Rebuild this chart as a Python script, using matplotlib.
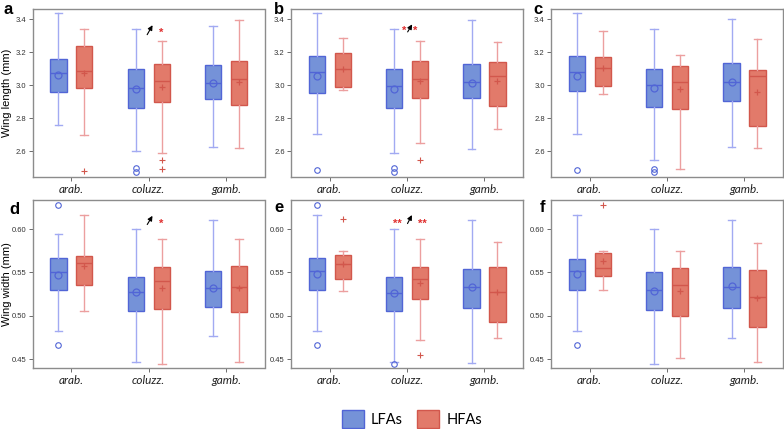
import matplotlib
matplotlib.use("Agg")
import matplotlib.pyplot as plt
from matplotlib.patches import Patch

plt.rcParams["font.family"] = ["Liberation Sans", "DejaVu Sans"]

# categories and groups
species = ["arab.", "coluzz.", "gamb."]
groups = ["LFAs", "HFAs"]

# per species: [whislo, q1, median, q3, whishi, mean]
# wing length, panel a
a_lfa = [[2.757, 2.960, 3.077, 3.160, 3.440, 3.060],
         [2.602, 2.864, 2.981, 3.096, 3.340, 2.980],
         [2.626, 2.915, 3.012, 3.123, 3.358, 3.012]]
a_hfa = [[2.700, 2.985, 3.086, 3.238, 3.341, 3.072],
         [2.588, 2.896, 3.025, 3.130, 3.270, 2.987],
         [2.616, 2.881, 3.038, 3.149, 3.398, 3.022]]
a_lfa_out = [[], [2.495, 2.472], []]
a_hfa_out = [[2.480], [2.544, 2.490], []]

# panel b
b_lfa = [[2.703, 2.956, 3.079, 3.178, 3.440, 3.057],
         [2.590, 2.861, 2.994, 3.097, 3.340, 2.976],
         [2.614, 2.921, 3.018, 3.129, 3.398, 3.012]]
b_hfa = [[2.970, 2.992, 3.097, 3.196, 3.285, 3.097],
         [2.648, 2.923, 3.038, 3.145, 3.270, 3.024],
         [2.733, 2.871, 3.055, 3.139, 3.261, 3.024]]
b_lfa_out = [[2.483], [2.496, 2.472], []]
b_hfa_out = [[], [2.545], []]

# panel c
c_lfa = [[2.703, 2.968, 3.079, 3.180, 3.440, 3.057],
         [2.545, 2.867, 3.004, 3.097, 3.340, 2.986],
         [2.626, 2.903, 3.022, 3.137, 3.400, 3.022]]
c_hfa = [[2.945, 2.994, 3.107, 3.170, 3.329, 3.107],
         [2.490, 2.855, 3.020, 3.119, 3.186, 2.980],
         [2.616, 2.752, 3.055, 3.091, 3.279, 2.958]]
c_lfa_out = [[2.483], [2.490, 2.472], []]
c_hfa_out = [[], [], []]

# wing width, panel d
d_lfa = [[0.482, 0.530, 0.551, 0.567, 0.594, 0.547],
         [0.447, 0.506, 0.527, 0.545, 0.600, 0.527],
         [0.477, 0.510, 0.532, 0.552, 0.610, 0.532]]
d_hfa = [[0.506, 0.535, 0.561, 0.569, 0.616, 0.557],
         [0.445, 0.508, 0.540, 0.556, 0.588, 0.532],
         [0.447, 0.504, 0.533, 0.558, 0.589, 0.532]]
d_lfa_out = [[0.628, 0.467], [], []]
d_hfa_out = [[], [], []]

# panel e
e_lfa = [[0.482, 0.530, 0.552, 0.567, 0.616, 0.548],
         [0.447, 0.506, 0.526, 0.545, 0.600, 0.526],
         [0.446, 0.509, 0.533, 0.554, 0.610, 0.533]]
e_hfa = [[0.529, 0.543, 0.560, 0.570, 0.575, 0.560],
         [0.472, 0.520, 0.543, 0.556, 0.588, 0.538],
         [0.474, 0.493, 0.527, 0.556, 0.585, 0.527]]
e_lfa_out = [[0.628, 0.467], [0.445], []]
e_hfa_out = [[0.612], [0.455], []]

# panel f
f_lfa = [[0.482, 0.530, 0.552, 0.566, 0.616, 0.548],
         [0.445, 0.507, 0.530, 0.550, 0.600, 0.529],
         [0.474, 0.509, 0.533, 0.556, 0.610, 0.534]]
f_hfa = [[0.530, 0.546, 0.555, 0.572, 0.575, 0.563],
         [0.451, 0.500, 0.535, 0.555, 0.575, 0.529],
         [0.447, 0.487, 0.522, 0.553, 0.584, 0.521]]
f_lfa_out = [[0.467], [], []]
f_hfa_out = [[0.628], [], []]

panels = [
    ("a", a_lfa, a_hfa, a_lfa_out, a_hfa_out),
    ("b", b_lfa, b_hfa, b_lfa_out, b_hfa_out),
    ("c", c_lfa, c_hfa, c_lfa_out, c_hfa_out),
    ("d", d_lfa, d_hfa, d_lfa_out, d_hfa_out),
    ("e", e_lfa, e_hfa, e_lfa_out, e_hfa_out),
    ("f", f_lfa, f_hfa, f_lfa_out, f_hfa_out),
]

# colours
blue_face, blue_edge, blue_whisk = "#7592d8", "#5165d6", "#a2aaf2"
red_face, red_edge, red_whisk = "#e27a6a", "#d2574c", "#ec9f9f"
spine_col = "#8c8c8c"

W, H = 784, 429
fig = plt.figure(figsize=(W / 100, H / 100), dpi=100)

col_left = [32.5, 291, 551]
row_top = [9.3, 200]
row_bot = [176.7, 368.3]
ax_w = 232


def make_stats(rows, outs):
    st = []
    for r, o in zip(rows, outs):
        st.append(dict(whislo=r[0], q1=r[1], med=r[2], q3=r[3], whishi=r[4],
                       mean=r[5], fliers=o))
    return st


def draw_group(ax, rows, outs, pos, face, edge, whisk, mean_marker):
    ax.bxp(make_stats(rows, outs), positions=pos, widths=0.21, capwidths=0.1,
           patch_artist=True, showmeans=True, manage_ticks=False,
           boxprops=dict(facecolor=face, edgecolor=edge, linewidth=1.0),
           medianprops=dict(color=edge, linewidth=1.0),
           whiskerprops=dict(color=whisk, linewidth=1.0),
           capprops=dict(color=whisk, linewidth=1.0),
           meanprops=dict(marker=mean_marker, markerfacecolor="none",
                          markeredgecolor=edge, markersize=5, markeredgewidth=0.9),
           flierprops=dict(marker=mean_marker, markerfacecolor="none",
                           markeredgecolor=edge, markersize=4, markeredgewidth=0.8,
                           linestyle="none"))


axes = {}
for i, (letter, lfa, hfa, lfa_out, hfa_out) in enumerate(panels):
    r, c = divmod(i, 3)
    left = col_left[c] / W
    bottom = 1 - row_bot[r] / H
    height = (row_bot[r] - row_top[r]) / H
    ax = fig.add_axes([left, bottom, ax_w / W, height])
    axes[letter] = ax

    x = [1, 2, 3]
    draw_group(ax, lfa, lfa_out, [p - 0.165 for p in x], blue_face, blue_edge, blue_whisk, "o")
    draw_group(ax, hfa, hfa_out, [p + 0.17 for p in x], red_face, red_edge, red_whisk, "+")

    ax.set_xlim(0.5, 3.5)
    ax.set_xticks(x)
    ax.set_xticklabels(species, fontsize=8.5, style="italic", family="Lato", color="#222222")
    if r == 0:
        ax.set_ylim(2.444, 3.462)
        ax.set_yticks([2.6, 2.8, 3.0, 3.2, 3.4])
        ax.set_yticklabels(["2.6", "2.8", "3.0", "3.2", "3.4"])
    else:
        ax.set_ylim(0.4396, 0.6335)
        ax.set_yticks([0.45, 0.50, 0.55, 0.60])
        ax.set_yticklabels(["0.45", "0.50", "0.55", "0.60"])
    ax.tick_params(axis="y", labelsize=5.5, length=3, width=0.6, color="#555555",
                   labelcolor="#333333", pad=1.5)
    ax.tick_params(axis="x", length=3, width=0.6, color="#555555", pad=2)
    for s in ax.spines.values():
        s.set_color(spine_col)
        s.set_linewidth(1.0)

# panel letters
letter_pos = {"a": (8, 10), "b": (279, 9), "c": (538, 10),
              "d": (14, 209), "e": (279, 208), "f": (542, 207)}
for k, (px, py) in letter_pos.items():
    fig.text(px / W, 1 - py / H, k, fontsize=12, fontweight="bold",
             ha="center", va="center")

# y labels
fig.text(7 / W, 1 - 93 / H, "Wing length (mm)", rotation=90, fontsize=8,
         ha="center", va="center")
fig.text(7 / W, 1 - 284 / H, "Wing width (mm)", rotation=90, fontsize=8,
         ha="center", va="center")

# significance marks
arrow = dict(arrowstyle="-|>", color="black", lw=0.8, mutation_scale=7)
star_kw = dict(color="#e03030", fontsize=8, ha="center", va="center", fontweight="bold")

ax = axes["a"]
ax.annotate("", xy=(2.07, 3.38), xytext=(1.965, 3.293), arrowprops=arrow)
ax.text(2.17, 3.32, "*", **star_kw)

ax = axes["b"]
ax.annotate("", xy=(2.085, 3.385), xytext=(1.99, 3.31), arrowprops=arrow)
ax.text(1.96, 3.33, "*", **star_kw)
ax.text(2.11, 3.33, "*", **star_kw)

ax = axes["d"]
ax.annotate("", xy=(2.07, 0.618), xytext=(1.965, 0.6025), arrowprops=arrow)
ax.text(2.17, 0.6065, "*", **star_kw)

ax = axes["e"]
ax.annotate("", xy=(2.08, 0.619), xytext=(1.99, 0.6035), arrowprops=arrow)
ax.text(1.87, 0.6065, "**", **star_kw)
ax.text(2.2, 0.6065, "**", **star_kw)

# legend
handles = [Patch(facecolor=blue_face, edgecolor=blue_edge, label="LFAs"),
           Patch(facecolor=red_face, edgecolor=red_edge, label="HFAs")]
fig.legend(handles=handles, loc="center", bbox_to_anchor=(412 / W, 1 - 419 / H),
           ncol=2, frameon=False, prop=dict(family="Lato", size=10.5),
           handlelength=1.5, handleheight=1.5, columnspacing=1.0, handletextpad=0.5)

fig.savefig("out.png", dpi=100)
